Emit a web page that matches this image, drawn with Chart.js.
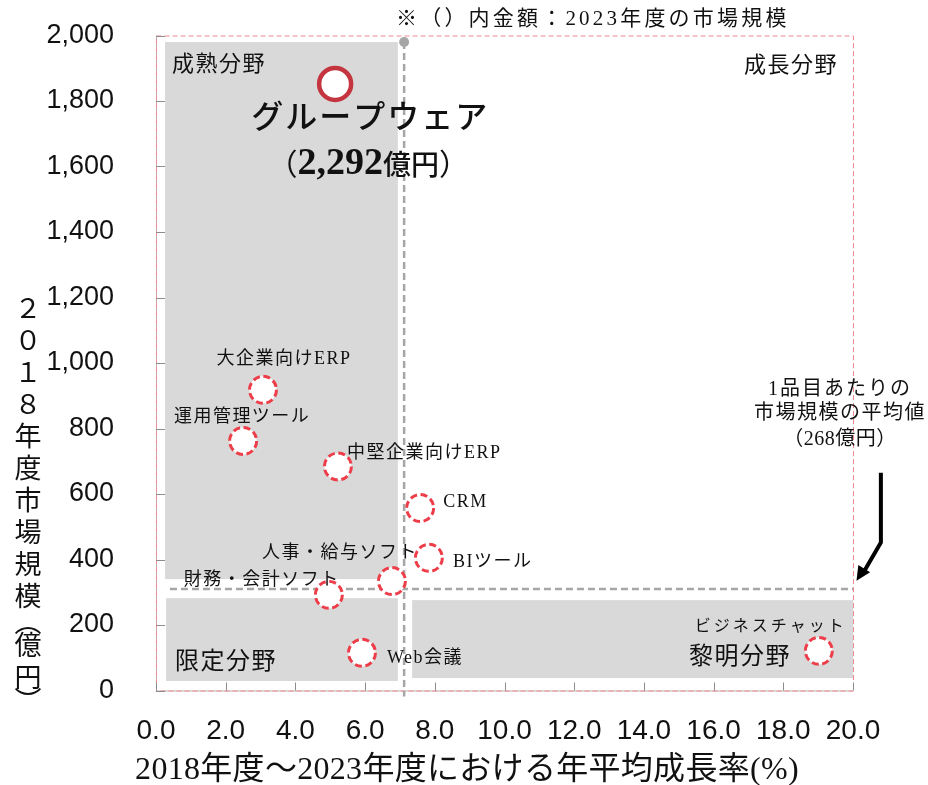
<!DOCTYPE html>
<html>
<head>
<meta charset="utf-8">
<script src="https://cdn.jsdelivr.net/npm/chart.js@4.4.0/dist/chart.umd.min.js"></script>
<style>
  html, body { margin: 0; padding: 0; background: #ffffff; }
  #wrap { width: 928px; height: 785px; }
</style>
</head>
<body>
<div id="wrap"><canvas id="chart" width="928" height="785"></canvas></div>
<script>
// ---- data -------------------------------------------------------------
const categories = ['グループウェア', '大企業向けERP', '運用管理ツール', '中堅企業向けERP', 'CRM',
                    'BIツール', '人事・給与ソフト', '財務・会計ソフト', 'Web会議', 'ビジネスチャット'];
// 2018-2023 CAGR (%)
const growthRate = [5.14, 3.07, 2.50, 5.22, 7.58, 7.83, 6.77, 4.96, 5.91, 19.02];
// 2018 market size (100M yen)
const marketSize2018 = [1852, 918, 762, 684, 557, 405, 334, 292, 115, 121];
const xTickValues = [0, 2, 4, 6, 8, 10, 12, 14, 16, 18, 20];
const yTickValues = [0, 200, 400, 600, 800, 1000, 1200, 1400, 1600, 1800, 2000];
const featured = 'グループウェア';
const featuredAmount = '2,292';
// dividing lines between the quadrants
const avgGrowth = 7.12;
const avgSize = 310;

// ---- layout (label offsets in px from the point, shaded zones in axis units)
const labelLayout = {
  '大企業向けERP':   { dx: 21,  dy: -31, align: 'center' },
  '運用管理ツール':  { dx: -1,  dy: -24, align: 'center' },
  '中堅企業向けERP': { dx: 9,   dy: -13, align: 'left' },
  'CRM':             { dx: 23,  dy: -6,  align: 'left' },
  'BIツール':        { dx: 24,  dy: 4,   align: 'left' },
  '人事・給与ソフト': { dx: -52, dy: -28, align: 'center' },
  '財務・会計ソフト': { dx: -67, dy: -15, align: 'center' },
  'Web会議':         { dx: 25,  dy: 5,   align: 'left' },
  'ビジネスチャット': { dx: -48, dy: -24, align: 'center', small: true }
};
const zones = [
  { x0: 0.26, x1: 6.94, y0: 340, y1: 1980 },
  { x0: 0.29, x1: 6.94, y0: 29,  y1: 282 },
  { x0: 7.35, x1: 20,   y0: 38,  y1: 276 }
];

const SERIF = "'Liberation Serif', 'Noto Sans CJK JP', serif";
const SANS_JP = "'Noto Sans CJK JP', sans-serif";

// ---- datasets --------------------------------------------------------
const featuredIdx = categories.indexOf(featured);
const otherIdx = categories.map((_, i) => i).filter(i => i !== featuredIdx);

const datasets = [
  {
    label: featured,
    data: [{ x: growthRate[featuredIdx], y: marketSize2018[featuredIdx], name: featured }],
    pointRadius: 16,
    pointBorderWidth: 4.5,
    pointBorderColor: '#c4353f',
    pointBackgroundColor: '#ffffff',
    pointHoverRadius: 16,
    markerDash: []
  },
  {
    label: 'others',
    data: otherIdx.map(i => ({ x: growthRate[i], y: marketSize2018[i], name: categories[i] })),
    pointRadius: 13.5,
    pointBorderWidth: 3,
    pointBorderColor: '#ec3d49',
    pointBackgroundColor: '#ffffff',
    pointHoverRadius: 13.5,
    markerDash: [7, 3.6]
  }
];

// ---- helpers -----------------------------------------------------------
function text(ctx, str, x, y, font, align, spacing) {
  ctx.save();
  ctx.font = font;
  ctx.fillStyle = '#111111';
  ctx.textBaseline = 'middle';
  ctx.letterSpacing = (spacing || 0) + 'px';
  const w = ctx.measureText(str).width;
  let sx = x;
  if (align === 'center') sx = x - w / 2;
  else if (align === 'right') sx = x - w;
  ctx.textAlign = 'left';
  ctx.fillText(str, sx, y);
  ctx.restore();
}

// dashed outlines for the circle markers
const markerDashPlugin = {
  id: 'markerDash',
  beforeDatasetDraw(chart, args) {
    const ds = chart.data.datasets[args.index];
    chart.ctx.setLineDash(ds.markerDash || []);
  },
  afterDatasetDraw(chart) {
    chart.ctx.setLineDash([]);
  }
};

// zones, dividing lines, frame and inward tick marks
const backdropPlugin = {
  id: 'backdrop',
  beforeDatasetsDraw(chart) {
    const { ctx, chartArea: a, scales: { x, y } } = chart;
    ctx.save();
    // shaded zones
    ctx.fillStyle = '#d9d9d9';
    zones.forEach(z => {
      const px0 = x.getPixelForValue(z.x0), px1 = x.getPixelForValue(z.x1);
      const py0 = y.getPixelForValue(z.y1), py1 = y.getPixelForValue(z.y0);
      ctx.fillRect(px0, py0, px1 - px0, py1 - py0);
    });
    // frame
    ctx.strokeStyle = '#b9b0b0';
    ctx.lineWidth = 1;
    ctx.beginPath();
    ctx.moveTo(a.left + 0.5, a.top);
    ctx.lineTo(a.left + 0.5, a.bottom + 0.5);
    ctx.lineTo(a.right, a.bottom + 0.5);
    ctx.stroke();
    ctx.strokeStyle = '#ef8a92';
    ctx.setLineDash([5, 3]);
    ctx.strokeRect(a.left + 0.5, a.top + 0.5, a.right - a.left, a.bottom - a.top);
    ctx.setLineDash([]);
    // inward ticks
    ctx.strokeStyle = '#8c8c8c';
    ctx.lineWidth = 1;
    ctx.beginPath();
    xTickValues.forEach(v => {
      const px = Math.round(x.getPixelForValue(v)) + 0.5;
      ctx.moveTo(px, a.bottom);
      ctx.lineTo(px, a.bottom - 8);
    });
    yTickValues.forEach(v => {
      const py = Math.round(y.getPixelForValue(v)) + 0.5;
      ctx.moveTo(a.left, py);
      ctx.lineTo(a.left + 9, py);
    });
    ctx.stroke();
    // dividing lines
    ctx.strokeStyle = '#a6a6a6';
    ctx.lineWidth = 2.5;
    ctx.setLineDash([7, 4]);
    const vx = x.getPixelForValue(avgGrowth);
    const vTop = y.getPixelForValue(1980);
    ctx.beginPath();
    ctx.moveTo(vx, vTop);
    ctx.lineTo(vx, y.getPixelForValue(-18));
    ctx.stroke();
    const hy = y.getPixelForValue(avgSize);
    ctx.beginPath();
    ctx.moveTo(x.getPixelForValue(0.4), hy);
    ctx.lineTo(x.getPixelForValue(20), hy);
    ctx.stroke();
    ctx.setLineDash([]);
    ctx.fillStyle = '#a6a6a6';
    ctx.beginPath();
    ctx.arc(vx, vTop, 5, 0, Math.PI * 2);
    ctx.fill();
    ctx.restore();
  }
};

// labels, notes and axis titles
const annotationPlugin = {
  id: 'annotations',
  afterDatasetsDraw(chart) {
    const { ctx, scales: { x, y } } = chart;
    // quadrant names
    text(ctx, '成熟分野', 172, 65, '22px ' + SERIF, 'left', 1.5);
    text(ctx, '成長分野', 838, 66, '22px ' + SERIF, 'right', 1.5);
    text(ctx, '限定分野', 175, 663, '24px ' + SERIF, 'left', 1.5);
    text(ctx, '黎明分野', 740, 658, '24px ' + SERIF, 'center', 1.5);

    // featured segment
    const fx = x.getPixelForValue(growthRate[featuredIdx]);
    const fy = y.getPixelForValue(marketSize2018[featuredIdx]);
    text(ctx, featured, fx + 35, fy + 36, '500 32px ' + SERIF, 'center', 2);
    ctx.save();
    const parts = [
      { s: '（', f: '30px ' + SANS_JP },
      { s: featuredAmount, f: 'bold 38px ' + SERIF },
      { s: '億円', f: '500 28px ' + SANS_JP },
      { s: '）', f: '30px ' + SANS_JP }
    ];
    let total = 0;
    parts.forEach(p => { ctx.font = p.f; p.w = ctx.measureText(p.s).width; total += p.w; });
    ctx.restore();
    let cx = fx + 33 - total / 2;
    parts.forEach(p => { text(ctx, p.s, cx, fy + 80, p.f, 'left', 0); cx += p.w; });

    // other segments
    otherIdx.forEach(i => {
      const name = categories[i];
      const l = labelLayout[name];
      const px = x.getPixelForValue(growthRate[i]);
      const py = y.getPixelForValue(marketSize2018[i]);
      const font = l.small ? '16px ' + SERIF : '18px ' + SERIF;
      text(ctx, name, px + l.dx, py + l.dy, font, l.align, l.small ? 3 : 1.5);
    });

    // note on the bracketed amounts
    text(ctx, '※（）内金額：2023年度の市場規模', 396, 19, '21px ' + SERIF, 'left', 3.2);

    // average note with arrow
    const nx = 840;
    text(ctx, '1品目あたりの', nx, 390, '20px ' + SERIF, 'center', 2);
    text(ctx, '市場規模の平均値', nx, 414, '20px ' + SERIF, 'center', 1.5);
    text(ctx, '（268億円）', nx, 440, '20px ' + SERIF, 'center', 0.5);
    const ax = x.getPixelForValue(20.8);
    ctx.save();
    ctx.strokeStyle = '#000000';
    ctx.fillStyle = '#000000';
    ctx.lineWidth = 4;
    ctx.beginPath();
    ctx.moveTo(ax, y.getPixelForValue(665));
    ctx.lineTo(ax, y.getPixelForValue(452));
    ctx.lineTo(x.getPixelForValue(20.3), y.getPixelForValue(360));
    ctx.stroke();
    // arrow head
    const tipX = x.getPixelForValue(20.1), tipY = y.getPixelForValue(335);
    const ang = Math.atan2(tipY - y.getPixelForValue(452), tipX - ax);
    ctx.beginPath();
    ctx.moveTo(tipX, tipY);
    ctx.lineTo(tipX - 16 * Math.cos(ang - 0.45), tipY - 16 * Math.sin(ang - 0.45));
    ctx.lineTo(tipX - 16 * Math.cos(ang + 0.45), tipY - 16 * Math.sin(ang + 0.45));
    ctx.closePath();
    ctx.fill();
    ctx.restore();

    // x axis title
    text(ctx, '2018年度～2023年度における年平均成長率(%)', 467, 771, '32px ' + SERIF, 'center', 0.3);

    // vertical y axis title
    const chars = ['２', '０', '１', '８', '年', '度', '市', '場', '規', '模', '︵', '億', '円', '︶'];
    const gaps = [32, 32, 32, 32, 32, 32, 32, 32, 32, 26, 23, 32, 24, 0];
    let ty = 308;
    chars.forEach((c, k) => {
      text(ctx, c, 28, ty, '27px ' + SANS_JP, 'center', 0);
      ty += gaps[k];
    });
  }
};

// ---- chart -------------------------------------------------------------
new Chart(document.getElementById('chart'), {
  type: 'scatter',
  data: { datasets },
  options: {
    responsive: false,
    animation: false,
    devicePixelRatio: 1,
    clip: false,
    layout: { padding: { left: 0, right: 75, top: 35.5, bottom: 0 } },
    plugins: { legend: { display: false }, tooltip: { enabled: false } },
    scales: {
      x: {
        type: 'linear', min: 0, max: 20,
        afterBuildTicks: s => { s.ticks = xTickValues.map(v => ({ value: v })); },
        afterFit: s => { s.height = 94.5; s.paddingLeft = 0; s.paddingRight = 0; },
        grid: { display: false },
        border: { display: false },
        ticks: {
          padding: 16,
          color: '#111111',
          font: { family: "'Liberation Sans', Arial, sans-serif", size: 28 },
          callback: v => Number(v).toFixed(1),
          maxRotation: 0, autoSkip: false
        }
      },
      y: {
        type: 'linear', min: 0, max: 2000,
        afterBuildTicks: s => { s.ticks = yTickValues.map(v => ({ value: v })); },
        afterFit: s => { s.width = 156; s.paddingTop = 0; s.paddingBottom = 0; },
        grid: { display: false },
        border: { display: false },
        ticks: {
          padding: 34,
          color: '#111111',
          font: { family: "'Liberation Sans', Arial, sans-serif", size: 27 },
          callback: v => Number(v).toLocaleString('en-US'),
          autoSkip: false
        }
      }
    }
  },
  plugins: [backdropPlugin, markerDashPlugin, annotationPlugin]
});
</script>
</body>
</html>
